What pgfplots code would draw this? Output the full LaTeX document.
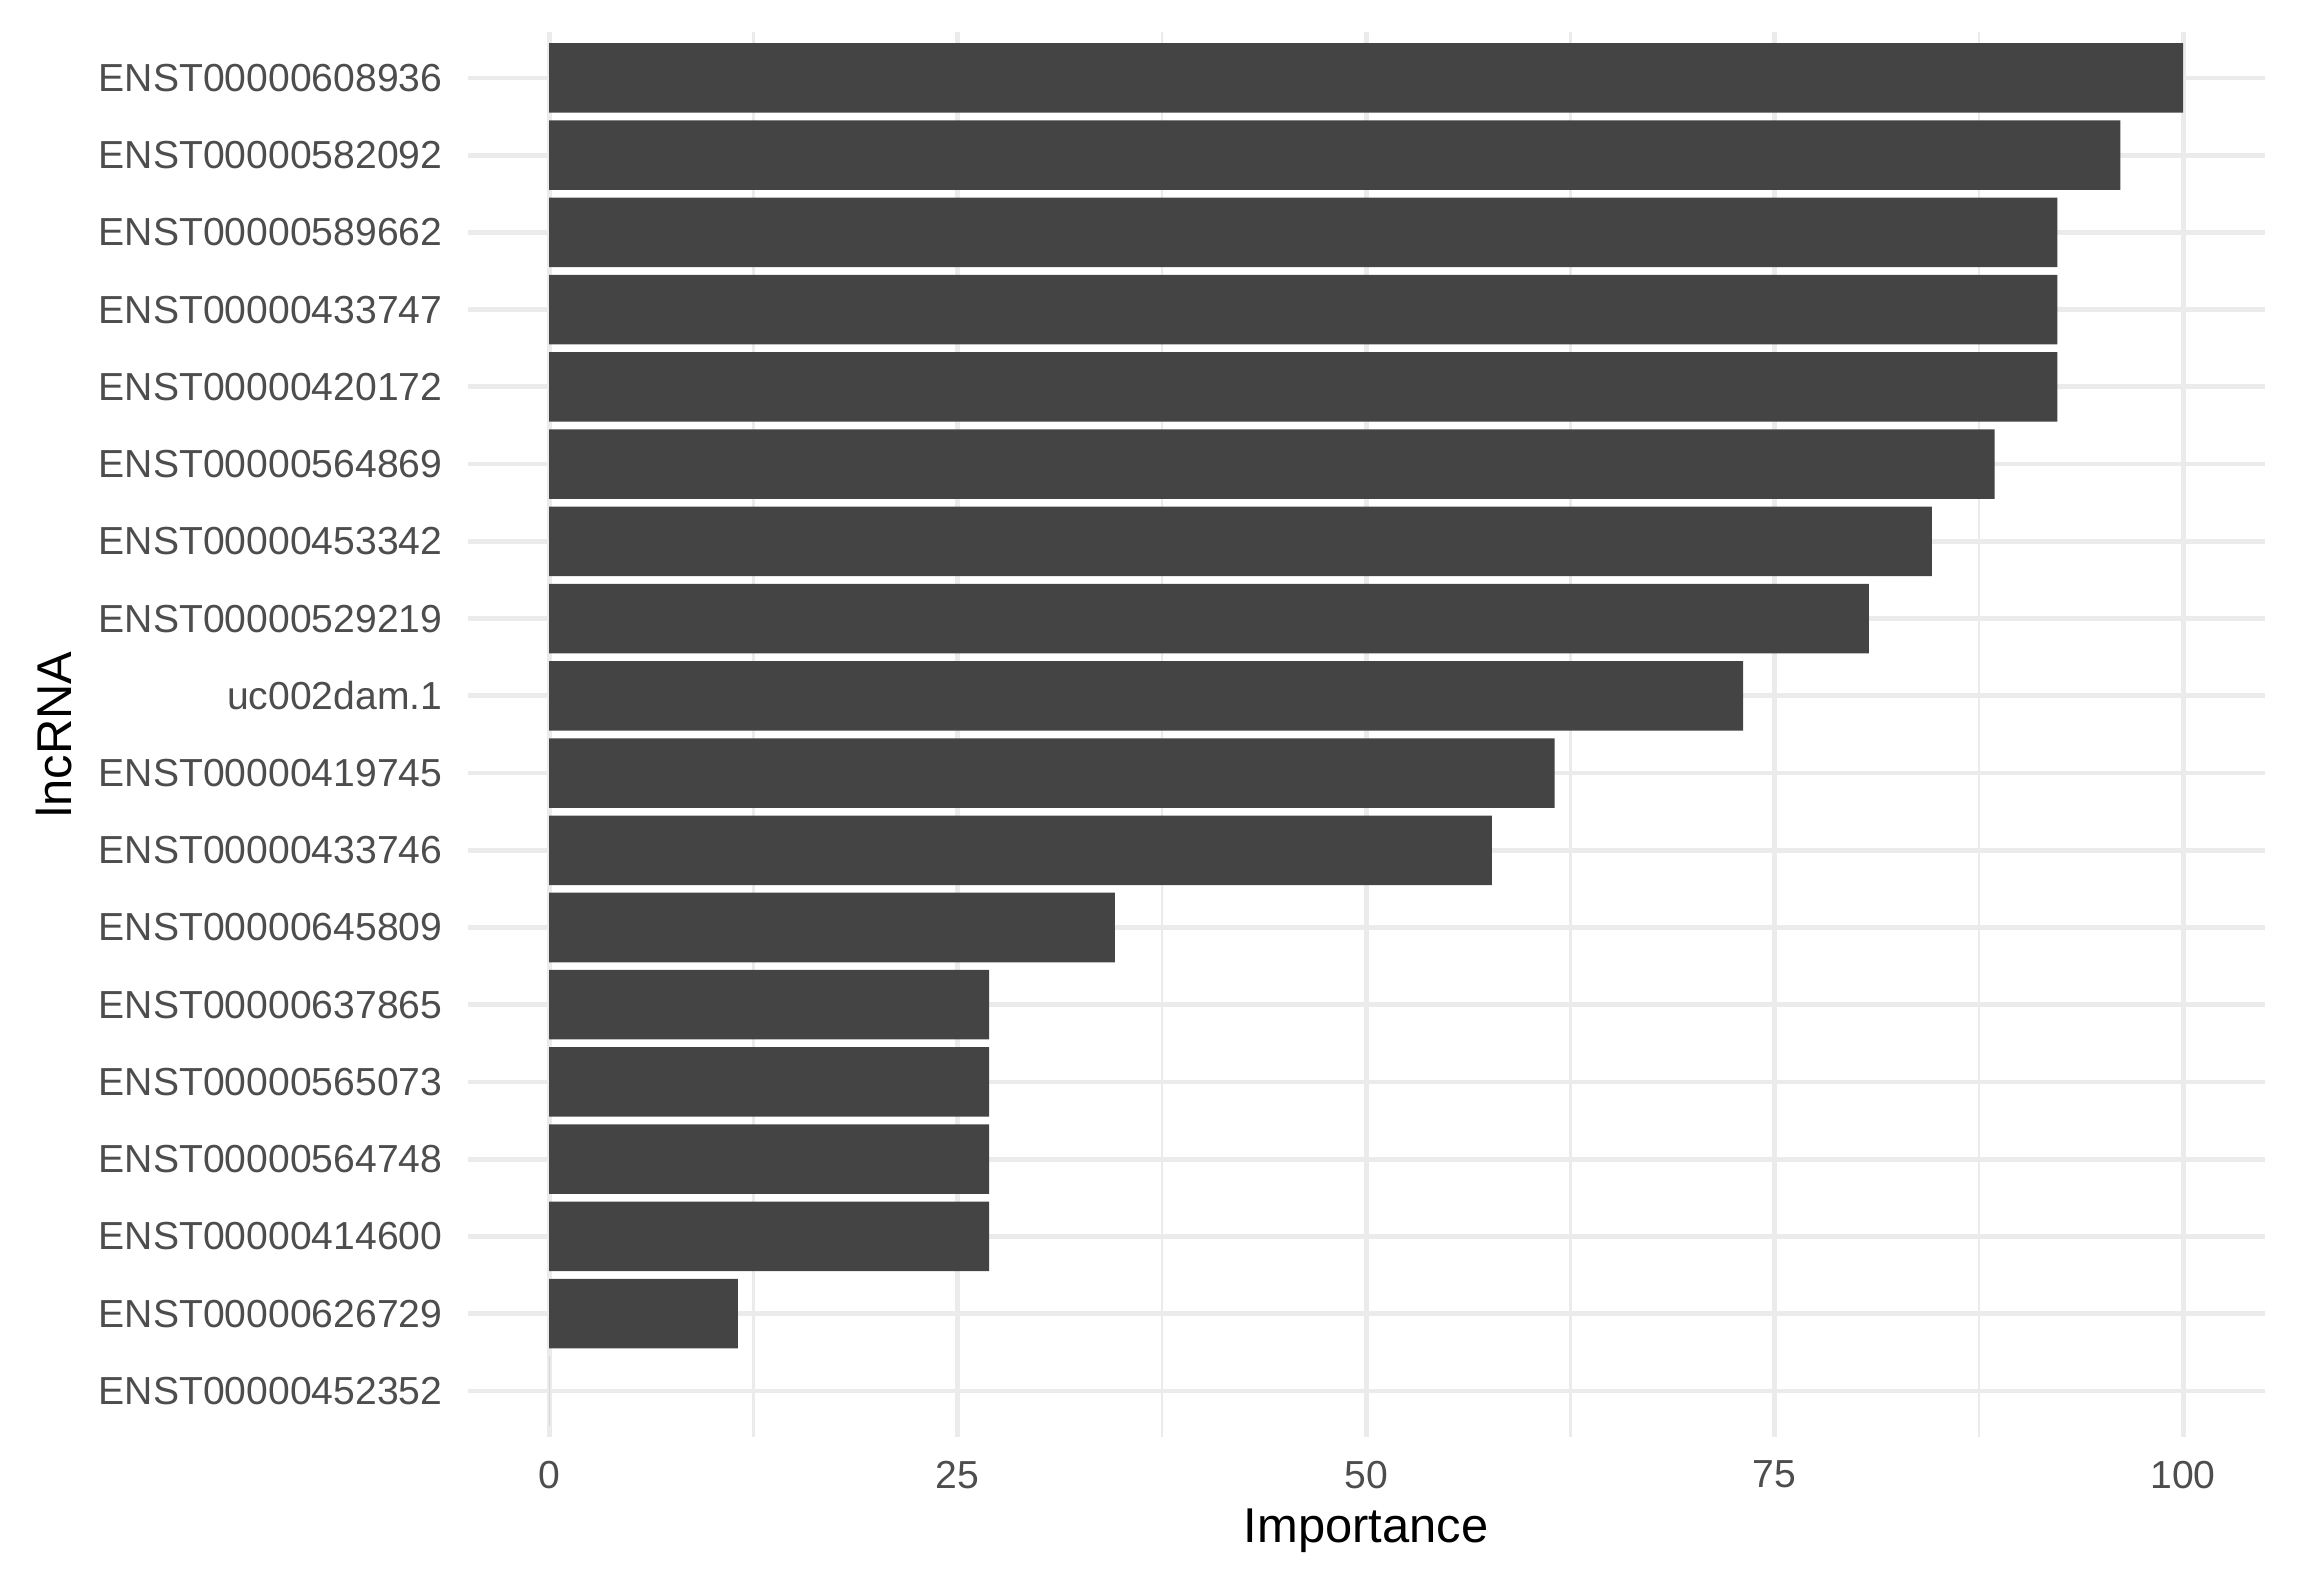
\documentclass[border=0pt]{standalone}
\usepackage{fontspec}
\setmainfont{Liberation Sans}
\usepackage{pgfplots}
\pgfplotsset{compat=1.18}
\definecolor{barfill}{HTML}{444444}
\definecolor{gridc}{HTML}{EBEBEB}
\definecolor{tickc}{HTML}{4D4D4D}
\begin{document}
\begin{tikzpicture}
\useasboundingbox (0,0) rectangle (517.75bp,353.3bp);
\begin{axis}[
  at={(104.84bp,31.02bp)}, anchor=south west,
  width=403.0bp, height=315.2bp, scale only axis,
  xmin=-5, xmax=105, ymin=-0.6, ymax=17.6,
  axis line style={draw=none},
  major tick length=0pt, minor tick length=0pt,
  xtick={0,25,50,75,100},
  minor xtick={12.5,37.5,62.5,87.5},
  ytick={0,...,17},
  yticklabels={ENST00000452352,ENST00000626729,ENST00000414600,ENST00000564748,ENST00000565073,ENST00000637865,ENST00000645809,ENST00000433746,ENST00000419745,uc002dam.1,ENST00000529219,ENST00000453342,ENST00000564869,ENST00000420172,ENST00000433747,ENST00000589662,ENST00000582092,ENST00000608936},
  xmajorgrids, ymajorgrids, xminorgrids,
  major grid style={gridc, line width=1.07bp},
  minor grid style={gridc, line width=0.53bp},
  ticklabel style={font=\fontsize{8.8}{10}\selectfont, text=tickc, inner sep=0pt},
  xticklabel style={anchor=north, yshift=-5.1bp},
  yticklabel style={anchor=east, xshift=-5.45bp},
  /pgf/number format/assume math mode=true,
  xlabel={Importance},
  ylabel={lncRNA},
  label style={font=\fontsize{11}{13}\selectfont, text=black, inner sep=0pt},
  xlabel style={at={(axis description cs:0.5,0)}, anchor=base, yshift=-23.62bp},
  ylabel style={at={(axis description cs:-0.2299,0.5)}, anchor=center},
]
\addplot[xbar, fill=barfill, draw=none, bar width=0.9] coordinates {
(0,0) (11.538,1) (26.923,2) (26.923,3) (26.923,4) (26.923,5) (34.615,6) (57.692,7) (61.538,8) (73.077,9) (80.769,10) (84.615,11) (88.462,12) (92.308,13) (92.308,14) (92.308,15) (96.154,16) (100,17)
};
\end{axis}
\end{tikzpicture}
\end{document}
